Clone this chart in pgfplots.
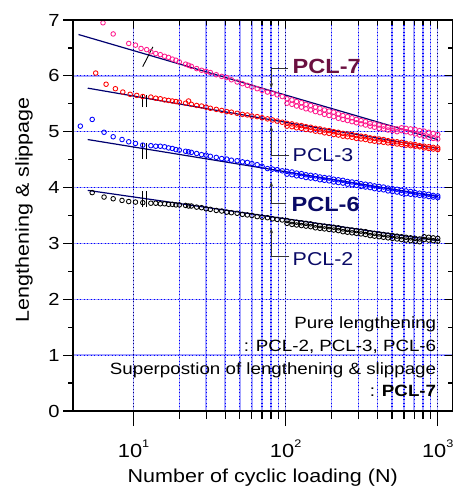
\documentclass[border=0pt]{standalone}
\usepackage{pgfplots}
\pgfplotsset{compat=1.18}
\usepackage{pgfplotstable}
\usepackage{fontspec}
\setmainfont{Liberation Sans}[FakeStretch=1.15]
\usetikzlibrary{arrows.meta}
\definecolor{cpink}{HTML}{FF1A8C}
\definecolor{fitnavy}{HTML}{000070}
\definecolor{maroonlbl}{HTML}{6B1040}
\definecolor{navylbl}{HTML}{0A0A66}

\pgfplotstableread{
N p7 p3 p6 p2
13 6.43 5.62 4.75 3.72
14 6.40 5.60 4.74 3.72
15 6.38 5.59 4.74 3.71
16 6.35 5.57 4.73 3.71
17 6.33 5.56 4.71 3.70
18 6.30 5.55 4.70 3.70
19 6.28 5.54 4.68 3.69
20 6.25 5.53 4.67 3.69
22 6.21 5.51 4.65 3.68
23 6.19 5.55 4.64 3.67
24 6.17 5.49 4.63 3.67
26 6.13 5.47 4.61 3.65
28 6.10 5.46 4.59 3.64
30 6.08 5.44 4.58 3.62
32 6.06 5.42 4.56 3.61
35 6.02 5.40 4.54 3.59
38 5.99 5.38 4.52 3.58
41 5.97 5.36 4.51 3.56
44 5.93 5.35 4.49 3.55
48 5.89 5.33 4.48 3.54
52 5.86 5.31 4.46 3.52
56 5.83 5.30 4.45 3.51
60 5.80 5.28 4.43 3.50
65 5.77 5.27 4.41 3.48
70 5.74 5.25 4.38 3.47
76 5.71 5.23 4.34 3.46
82 5.69 5.21 4.33 3.44
88 5.66 5.19 4.32 3.43
95 5.63 5.17 4.30 3.42
102 5.59 5.15 4.29 3.41
110 5.57 5.14 4.28 3.39
118 5.54 5.12 4.26 3.38
127 5.52 5.11 4.25 3.37
136 5.49 5.09 4.23 3.36
146 5.47 5.08 4.22 3.35
157 5.44 5.06 4.21 3.33
168 5.42 5.05 4.19 3.32
180 5.39 5.03 4.18 3.31
193 5.37 5.02 4.17 3.30
207 5.35 5.00 4.15 3.29
222 5.32 4.99 4.14 3.28
238 5.29 4.97 4.13 3.26
255 5.27 4.96 4.11 3.25
273 5.25 4.95 4.10 3.24
292 5.22 4.93 4.09 3.23
313 5.20 4.92 4.07 3.22
335 5.18 4.91 4.06 3.21
359 5.15 4.89 4.05 3.19
384 5.14 4.88 4.03 3.18
411 5.12 4.87 4.02 3.17
440 5.10 4.86 4.01 3.16
471 5.08 4.84 3.99 3.15
504 5.06 4.83 3.98 3.14
540 5.05 4.82 3.97 3.13
578 5.02 4.81 3.95 3.12
619 5.00 4.79 3.94 3.11
663 4.98 4.78 3.93 3.10
710 4.96 4.77 3.91 3.09
760 4.94 4.75 3.90 3.08
814 4.92 4.74 3.89 3.07
872 4.90 4.73 3.88 3.06
934 4.88 4.72 3.86 3.05
1000 4.87 4.71 3.85 3.04
}\maindata

\pgfplotstableread{
N p7 p3 p6 p2
102 5.51 5.10 4.24 3.36
110 5.49 5.09 4.23 3.34
118 5.46 5.07 4.21 3.33
127 5.44 5.06 4.20 3.32
136 5.41 5.04 4.18 3.31
146 5.39 5.03 4.17 3.30
157 5.36 5.01 4.16 3.28
168 5.34 5.00 4.14 3.27
180 5.31 4.98 4.13 3.26
193 5.29 4.97 4.12 3.25
207 5.27 4.95 4.10 3.24
222 5.24 4.94 4.09 3.23
238 5.22 4.92 4.08 3.21
255 5.20 4.91 4.06 3.20
273 5.18 4.90 4.05 3.19
292 5.16 4.88 4.04 3.18
313 5.14 4.87 4.02 3.17
335 5.12 4.86 4.01 3.16
359 5.10 4.84 4.00 3.14
384 5.08 4.83 3.98 3.13
411 5.06 4.82 3.97 3.12
440 5.05 4.81 3.96 3.11
471 5.03 4.80 3.94 3.10
504 5.02 4.79 3.93 3.09
540 5.00 4.78 3.92 3.08
578 5.07 4.77 3.90 3.07
619 5.06 4.76 3.89 3.06
663 5.05 4.75 3.88 3.05
710 5.04 4.74 3.87 3.04
760 5.02 4.73 3.86 3.03
814 5.01 4.71 3.85 3.12
872 4.99 4.70 3.84 3.11
934 4.97 4.69 3.83 3.10
1000 4.95 4.68 3.82 3.09
}\seconddata

\begin{document}
\begin{tikzpicture}
% underlying light grid
\begin{axis}[
  scale only axis, width=379.5pt, height=391pt,
  xmode=log, xmin=4, xmax=1250, ymin=0, ymax=7,
  at={(0pt,0pt)}, anchor=south west,
  xtick={10,100,1000}, ytick={0,1,2,3,4,5,6,7},
  axis line style={draw=none},
  xticklabels={}, yticklabels={},
  tick style={draw=none},
  grid=both,
  major grid style={blue!35, line width=1.4pt},
  minor grid style={blue!35, line width=1.4pt},
]
\end{axis}
% main axis: grid, data, annotations
\begin{axis}[
  scale only axis, width=379.5pt, height=391pt,
  xmode=log, xmin=4, xmax=1250, ymin=0, ymax=7,
  at={(0pt,0pt)}, anchor=south west,
  xtick={10,100,1000}, ytick={0,1,2,3,4,5,6,7},
  axis line style={line width=1.3pt},
  xticklabels={}, yticklabels={},
  tick style={draw=none},
  grid=both,
  major grid style={blue, line width=1.2pt, dash pattern=on 1.3pt off 2.2pt},
  minor grid style={blue, line width=1.2pt, dash pattern=on 1.3pt off 2.2pt},
  extra x ticks={10,100,1000}, extra x tick labels={},
  extra x tick style={grid=major, major grid style={fitnavy, line width=1.3pt, dash pattern=on 1.3pt off 2.2pt}},
]
% PCL-7
\addplot[only marks, mark=o, mark size=2.3pt, cpink, mark options={line width=0.85pt}] coordinates {(6.3,6.95) (7.35,6.75) (9.3,6.58) (10.3,6.55) (11.2,6.49) (12.2,6.47)};
\addplot[only marks, mark=o, mark size=2.3pt, cpink, mark options={line width=0.85pt}] table[x=N, y=p7] {\maindata};
\addplot[only marks, mark=o, mark size=2.3pt, cpink, mark options={line width=0.85pt}] table[x=N, y=p7] {\seconddata};
% PCL-3
\addplot[only marks, mark=o, mark size=2.3pt, red, mark options={line width=0.85pt}] coordinates {(5.64,6.05) (6.6,5.85) (7.6,5.77) (8.5,5.71) (9.5,5.67) (10.5,5.65) (11.5,5.63)};
\addplot[only marks, mark=o, mark size=2.3pt, red, mark options={line width=0.85pt}] table[x=N, y=p3] {\maindata};
\addplot[only marks, mark=o, mark size=2.3pt, red, mark options={line width=0.85pt}] table[x=N, y=p3] {\seconddata};
% PCL-6
\addplot[only marks, mark=o, mark size=2.3pt, blue, mark options={line width=0.85pt}] coordinates {(4.47,5.10) (5.35,5.22) (6.4,4.99) (7.35,4.91) (8.4,4.86) (9.3,4.82) (10.3,4.79) (11.5,4.76)};
\addplot[only marks, mark=o, mark size=2.3pt, blue, mark options={line width=0.85pt}] table[x=N, y=p6] {\maindata};
\addplot[only marks, mark=o, mark size=2.3pt, blue, mark options={line width=0.85pt}] table[x=N, y=p6] {\seconddata};
% PCL-2
\addplot[only marks, mark=o, mark size=2.3pt, black, mark options={line width=0.85pt}] coordinates {(5.35,3.91) (6.4,3.83) (7.35,3.80) (8.4,3.77) (9.3,3.75) (10.3,3.74) (11.5,3.73)};
\addplot[only marks, mark=o, mark size=2.3pt, black, mark options={line width=0.85pt}] table[x=N, y=p2] {\maindata};
\addplot[only marks, mark=o, mark size=2.3pt, black, mark options={line width=0.85pt}] table[x=N, y=p2] {\seconddata};
% fitted lines
\addplot[fitnavy, line width=1.2pt, no marks] coordinates {(4.35,6.74) (1000,4.86)};
\addplot[fitnavy, line width=1.2pt, no marks] coordinates {(5,5.78) (1000,4.70)};
\addplot[fitnavy, line width=1.2pt, no marks] coordinates {(5,4.86) (1000,3.84)};
\addplot[fitnavy, line width=1.2pt, no marks] coordinates {(5,3.95) (1000,3.05)};
% break marks
\draw[black, line width=0.9pt] (axis cs:11.5,6.165) -- (axis cs:13.4,6.52);
\draw[black, line width=0.9pt] (axis cs:11.4,5.44) -- (axis cs:11.4,5.66);
\draw[black, line width=0.9pt] (axis cs:12.1,5.44) -- (axis cs:12.1,5.66);
\draw[black, line width=0.9pt] (axis cs:11.4,4.51) -- (axis cs:11.4,4.79);
\draw[black, line width=0.9pt] (axis cs:12.1,4.51) -- (axis cs:12.1,4.79);
\draw[black, line width=0.9pt] (axis cs:11.4,3.65) -- (axis cs:11.4,3.93);
\draw[black, line width=0.9pt] (axis cs:12.1,3.65) -- (axis cs:12.1,3.93);
% leaders
\draw[black!80, line width=0.7pt, -{Stealth[length=5pt,width=3.5pt]}] (axis cs:103.5,6.135) -- (axis cs:80.5,6.135) -- (axis cs:80.5,5.78);
\draw[black!80, line width=0.7pt, -{Stealth[length=5pt,width=3.5pt]}] (axis cs:106,4.58) -- (axis cs:80.5,4.58) -- (axis cs:80.5,5.10);
\draw[black!80, line width=0.7pt, -{Stealth[length=5pt,width=3.5pt]}] (axis cs:101,3.717) -- (axis cs:80.5,3.717) -- (axis cs:80.5,4.105);
\draw[black!80, line width=0.7pt, -{Stealth[length=5pt,width=3.5pt]}] (axis cs:106,2.76) -- (axis cs:80.5,2.76) -- (axis cs:80.5,3.27);
% labels
\node[anchor=base west, inner sep=0pt, text=maroonlbl, font=\bfseries\fontsize{20.5}{22}\selectfont] at (axis cs:111,6.05) {PCL-7};
\node[anchor=base west, inner sep=0pt, text=navylbl, font=\fontsize{18.6}{20}\selectfont] at (axis cs:111,4.463) {PCL-3};
\node[anchor=base west, inner sep=0pt, text=navylbl, font=\bfseries\fontsize{20.5}{22}\selectfont] at (axis cs:109,3.568) {PCL-6};
\node[anchor=base west, inner sep=0pt, text=navylbl, font=\fontsize{18.6}{20}\selectfont] at (axis cs:111,2.596) {PCL-2};
% note
\node[anchor=base east, inner sep=0pt, font=\fontsize{16.3}{18}\selectfont] at (axis cs:979,1.481) {Pure lengthening};
\node[anchor=base east, inner sep=0pt, font=\fontsize{16.3}{18}\selectfont] at (axis cs:979,1.062) {: PCL-2, PCL-3, PCL-6};
\node[anchor=base east, inner sep=0pt, font=\fontsize{16.3}{18}\selectfont] at (axis cs:979,0.662) {Superpostion of lengthening \& slippage};
\node[anchor=base east, inner sep=0pt, font=\fontsize{16.3}{18}\selectfont] at (axis cs:979,0.256) {: \textbf{PCL-7}};
\end{axis}
% bottom axis with labels
\begin{axis}[
  scale only axis, width=379.5pt, height=391pt,
  xmode=log, xmin=4, xmax=1250, ymin=0, ymax=7,
  at={(0pt,0pt)}, anchor=south west, clip=false,
  xtick={10,100,1000},
  axis x line=bottom, axis y line=none,
  axis line style={line width=1.3pt, -},
  tick style={black, line width=1.2pt},
  tick align=outside, major tick length=15pt, minor tick length=8pt,
  xticklabels={},
  xlabel={Number of cyclic loading (N)},
  xlabel style={at={(axis description cs:0.5,-0.1829)}, anchor=base, font=\fontsize{18.7}{20}\selectfont},
]
\node[anchor=base, inner sep=0pt, font=\fontsize{19}{20}\selectfont, yshift=-46pt] at (axis cs:10,0) {10\raisebox{10pt}{\fontsize{11}{11}\selectfont 1}};
\node[anchor=base, inner sep=0pt, font=\fontsize{19}{20}\selectfont, yshift=-46pt] at (axis cs:100,0) {10\raisebox{10pt}{\fontsize{11}{11}\selectfont 2}};
\node[anchor=base, inner sep=0pt, font=\fontsize{19}{20}\selectfont, yshift=-46pt] at (axis cs:1000,0) {10\raisebox{10pt}{\fontsize{11}{11}\selectfont 3}};
\end{axis}
% left axis with labels
\begin{axis}[
  scale only axis, width=379.5pt, height=391pt,
  xmode=log, xmin=4, xmax=1250, ymin=0, ymax=7,
  at={(0pt,0pt)}, anchor=south west,
  ytick={0,1,2,3,4,5,6,7},
  axis y line=left, axis x line=none,
  axis line style={line width=1.3pt, -},
  tick style={black, line width=1.2pt},
  tick align=outside, major tick length=10pt, minor tick length=5pt,
  minor y tick num=1,
  yticklabels={0,1,2,3,4,5,6,7},
  yticklabel style={font=\fontsize{17.5}{20}\selectfont},
  ylabel={Lengthening \& slippage},
  ylabel style={at={(axis description cs:-0.116,0.515)}, anchor=base, font=\fontsize{18.7}{20}\selectfont},
]
\end{axis}
% top and right ticks
\begin{axis}[
  scale only axis, width=379.5pt, height=391pt,
  xmode=log, xmin=4, xmax=1250, ymin=0, ymax=7,
  at={(0pt,0pt)}, anchor=south west,
  xtick={10,100,1000}, ytick={0,1,2,3,4,5,6,7},
  axis x line=top, axis y line=right,
  axis line style={line width=1.3pt, -},
  tick style={black, line width=1.2pt},
  tick align=inside, major tick length=8pt, minor tick length=5pt,
  minor y tick num=1,
  xticklabels={}, yticklabels={},
]
\end{axis}
\pgfresetboundingbox
\path[use as bounding box] (-73pt,-77pt) rectangle (386pt,411pt);
\end{tikzpicture}
\end{document}
